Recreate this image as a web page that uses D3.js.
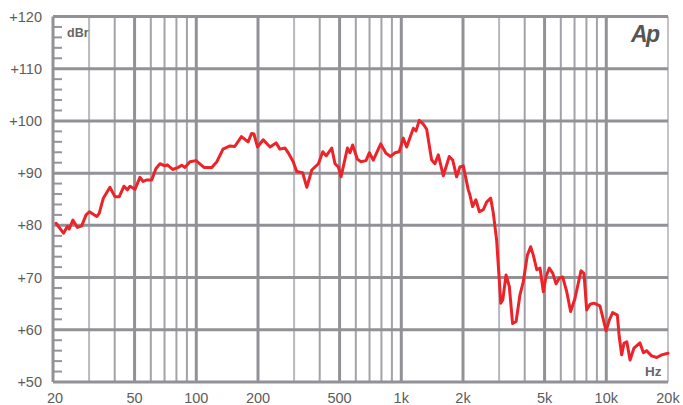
<!DOCTYPE html>
<html><head><meta charset="utf-8">
<script src="https://cdn.jsdelivr.net/npm/d3@7"></script>
<style>
html,body{margin:0;padding:0;background:#fff;}
text{font-family:"Liberation Sans",Arial,sans-serif;}
</style></head>
<body><svg id="c" width="683" height="405"></svg>
<script>
const freqs = [20.7,22.5,23.5,24.0,25.0,26.3,27.6,29.0,30.1,32.7,33.6,35.2,37.9,40.1,42.1,44.4,46.1,47.5,50.2,53.1,55.1,57.3,60.6,63.6,66.5,70.3,72.2,76.7,81.7,84.9,88.1,93.1,99.7,109,119,126,135,146,154,166,179,186,191,199,212,229,
245,256,271,281,297,309,330,346,366,394,414,430,458,475,493,508,521,546,562,579,610,634,673,698,730,794,842,887,931,977,1023,1062,1145,1180,1224,1280,1330,1406,1459,1516,1603,1714,1782,1862,1932,2006,2122,
2162,2228,2312,2404,2512,2612,2730,2812,2918,3006,3055,3126,3243,3365,3491,3631,3793,3936,4121,4276,4406,4581,4753,4932,5082,5273,5483,5689,5902,6128,6412,6699,7032,7528,7783,8020,8337,8710,9312,9977,10352,10740,11324,11562,11886,12190,12590,13062,13648,14589,15171,15740,16637,17620,18621,20000];
const levels = [80.4,78.5,79.8,79.3,81.0,79.6,79.9,82.0,82.6,81.7,82.3,85.2,87.3,85.5,85.5,87.5,86.8,87.5,86.9,89.2,88.4,88.7,88.7,90.9,91.8,91.4,91.6,90.7,91.1,91.5,91.1,92.2,92.4,91.1,91.1,92.2,94.6,95.2,95.1,97.0,96.0,97.6,97.5,95.0,96.4,95.0,
95.8,94.6,94.8,93.9,92.2,90.3,90.1,87.3,90.6,91.8,94.1,93.3,94.8,91.8,91.2,89.3,91.2,94.8,93.9,95.4,92.7,92.2,92.4,93.9,92.5,95.6,93.8,93.2,93.9,94.1,96.7,95.0,98.6,98.1,100.1,99.4,98.4,92.5,91.8,93.5,89.5,93.2,92.5,89.3,91.2,91.4,86.8,
85.8,83.6,84.9,82.6,83.0,84.5,85.2,82.3,77.2,69.5,65.1,65.7,70.5,68.3,61.2,61.6,66.7,69.2,74.3,75.9,74.3,71.5,71.8,67.3,70.2,71.8,70.8,68.8,69.9,70.1,67.3,63.5,66.0,71.3,70.8,63.8,64.9,65.1,64.6,59.8,61.9,63.3,62.8,58.7,55.2,57.4,57.7,54.2,56.5,57.5,55.6,56.0,55.0,54.7,55.2,55.5];

const yTicks = [50,60,70,80,90,100,110,120];
const yTickLabels = ["+50","+60","+70","+80","+90","+100","+110","+120"];
const xTicks = [20,50,100,200,500,1000,2000,5000,10000,20000];
const xTickLabels = ["20","50","100","200","500","1k","2k","5k","10k","20k"];
const xGrid = [30,40,60,70,80,90,300,400,600,700,800,900,3000,4000,6000,7000,8000,9000];

const L=53, R=668, T=16.5, B=382;
const x = d3.scaleLog().domain([20,20000]).range([L,R]);
const y = d3.scaleLinear().domain([50,120]).range([B,T]);
const svg = d3.select("#c");

const minor = d3.range(52,120,2).filter(v=>v%10!==0);
svg.append("g").selectAll("line").data(minor).join("line")
  .attr("x1",L).attr("x2",L+9).attr("y1",d=>y(d)).attr("y2",d=>y(d))
  .attr("stroke","#959599").attr("stroke-width",2);

svg.append("g").selectAll("line").data(xGrid).join("line")
  .attr("x1",d=>x(d)).attr("x2",d=>x(d)).attr("y1",T).attr("y2",B)
  .attr("stroke",d=>{const m=d/Math.pow(10,Math.floor(Math.log10(d)));return Math.abs(m-3)<0.01?"#b9b9bd":"#a3a3a7";})
  .attr("stroke-width",2);

svg.append("g").selectAll("line").data(xTicks).join("line")
  .attr("x1",d=>x(d)).attr("x2",d=>x(d)).attr("y1",T).attr("y2",B)
  .attr("stroke",d=>d===20000?"#c4c4c8":"#929296")
  .attr("stroke-width",d=>d===20000?2:3);

svg.append("g").selectAll("line").data(yTicks).join("line")
  .attr("x1",L).attr("x2",R).attr("y1",d=>y(d)).attr("y2",d=>y(d))
  .attr("stroke","#929296").attr("stroke-width",3);

svg.append("g").selectAll("text").data(yTicks).join("text")
  .attr("x",42).attr("y",d=>y(d)+5).attr("text-anchor","end")
  .attr("font-size",14.5).attr("fill","#5c5c5c")
  .text((d,i)=>yTickLabels[i]);

svg.append("g").selectAll("text").data(xTicks).join("text")
  .attr("x",d=>x(d)+(d===20?2:0)).attr("y",403).attr("text-anchor","middle")
  .attr("font-size",14.5).attr("fill","#5c5c5c")
  .text((d,i)=>xTickLabels[i]);

const line = d3.line().x(d=>x(d[0])).y(d=>y(d[1])).curve(d3.curveLinear);
svg.append("path").datum(freqs.map((f,i)=>[f,levels[i]]))
  .attr("d",line).attr("fill","none").attr("stroke","#ec2329")
  .attr("stroke-width",3).attr("stroke-linejoin","round").attr("stroke-linecap","round");

svg.append("text").attr("x",67).attr("y",37).attr("font-size",12.5).attr("font-weight","bold")
  .attr("fill","#666").text("dBr");
svg.append("text").attr("x",645).attr("y",376).attr("font-size",13.5).attr("font-weight","bold")
  .attr("fill","#666").text("Hz");
svg.append("text").attr("x",631).attr("y",42).attr("font-size",23).attr("font-weight","bold")
  .attr("font-style","italic").attr("letter-spacing",-1.5).attr("fill","#555").text("Ap");
</script></body></html>
